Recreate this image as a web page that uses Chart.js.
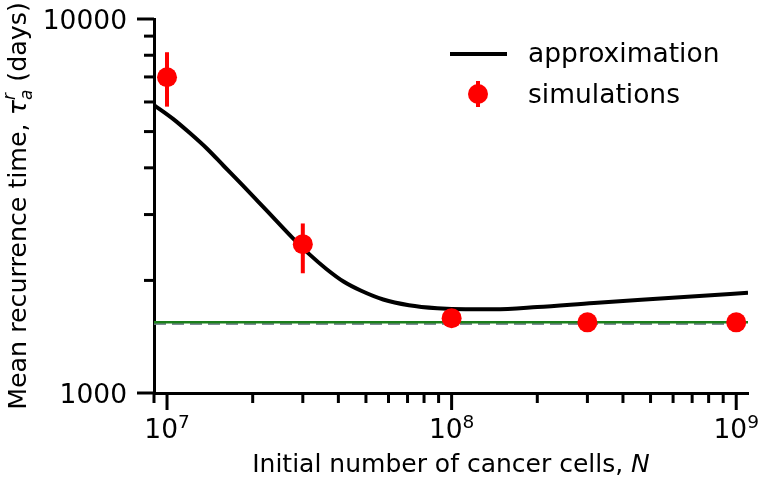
<!DOCTYPE html>
<html>
<head>
<meta charset="utf-8">
<script src="https://cdn.jsdelivr.net/npm/chart.js@4.4.1/dist/chart.umd.min.js"></script>
<style>
  html, body { margin: 0; padding: 0; background: #fff; }
  #wrap { width: 760px; height: 482px; }
</style>
</head>
<body>
<div id="wrap"><canvas id="myChart" width="760" height="482"></canvas></div>
<script>
// approximation curve
const curveN = [9.0e6, 1.05e7, 1.2e7, 1.38e7, 1.58e7, 1.82e7, 2.09e7, 2.4e7, 2.75e7, 3.16e7, 3.63e7, 4.17e7, 4.79e7, 5.75e7, 7.08e7, 8.9e7, 1.12e8, 1.41e8, 2.0e8, 3.16e8, 5.6e8, 1.1e9];
const curveTau = [5888, 5408, 4963, 4506, 4052, 3628, 3249, 2908, 2608, 2351, 2146, 1986, 1879, 1778, 1717, 1685, 1674, 1674, 1697, 1741, 1792, 1854];

// simulations with error bars
const simN = [1e7, 3e7, 1e8, 3e8, 1e9];
const simTau = [6985, 2500, 1585, 1545, 1545];
const simLow = [5830, 2090, 1560, 1525, 1525];
const simHigh = [8150, 2840, 1610, 1565, 1565];

// horizontal reference levels
const greenLevel = [1545, 1545];
const dashedLevel = [1535, 1535];

const xRange = [9.0e6, 1.1e9];
const yRange = [1000, 10000];
const yTickLabels = [1000, 10000];

const FONT = "'DejaVu Sans', sans-serif";
const RED = '#ff0000';

function logTicks(min, max) {
  const out = [];
  for (let e = Math.floor(Math.log10(min)); e <= Math.ceil(Math.log10(max)); e++) {
    for (let k = 1; k <= 9; k++) {
      const v = k * Math.pow(10, e);
      if (v >= min * 0.999 && v <= max * 1.001) out.push({ v, major: k === 1, e });
    }
  }
  return out;
}

// draw text pieces in a row: [text, font, yShift, noAdvance]
function drawPieces(ctx, pieces, x, y) {
  let cx = x;
  pieces.forEach((p) => {
    ctx.font = p[1];
    ctx.fillText(p[0], cx, y + (p[2] || 0));
    if (!p[3]) cx += ctx.measureText(p[0]).width;
  });
}
function piecesWidth(ctx, pieces) {
  let w = 0;
  pieces.forEach((p) => {
    ctx.font = p[1];
    if (!p[3]) w += ctx.measureText(p[0]).width;
  });
  return w;
}

const decorPlugin = {
  id: 'decor',
  beforeDatasetsDraw(chart) {
    const { ctx, scales: { x, y } } = chart;
    ctx.save();
    ctx.strokeStyle = RED;
    ctx.lineWidth = 4;
    simN.forEach((n, i) => {
      const px = x.getPixelForValue(n);
      ctx.beginPath();
      ctx.moveTo(px, y.getPixelForValue(simLow[i]));
      ctx.lineTo(px, y.getPixelForValue(simHigh[i]));
      ctx.stroke();
    });
    ctx.restore();
  },
  afterDraw(chart) {
    const { ctx, chartArea, scales: { x, y } } = chart;
    ctx.save();
    ctx.strokeStyle = '#000';
    ctx.fillStyle = '#000';
    ctx.lineWidth = 3;
    ctx.textAlign = 'left';
    ctx.textBaseline = 'alphabetic';

    // x ticks + labels
    logTicks(xRange[0], xRange[1]).forEach((t) => {
      const px = x.getPixelForValue(t.v);
      ctx.beginPath();
      ctx.moveTo(px, chartArea.bottom);
      ctx.lineTo(px, chartArea.bottom + (t.major ? 17 : 10));
      ctx.stroke();
      if (t.major) {
        const pieces = [['10', '26.5px ' + FONT, 0], [String(t.e), '18.5px ' + FONT, -10]];
        const w = piecesWidth(ctx, pieces);
        drawPieces(ctx, pieces, px - w / 2, 438);
      }
    });

    // y ticks + labels
    logTicks(yRange[0], yRange[1]).forEach((t) => {
      const py = y.getPixelForValue(t.v);
      ctx.beginPath();
      ctx.moveTo(chartArea.left - (t.major ? 17 : 10), py);
      ctx.lineTo(chartArea.left, py);
      ctx.stroke();
    });
    ctx.textAlign = 'right';
    ctx.font = '26.5px ' + FONT;
    yTickLabels.forEach((v) => {
      ctx.fillText(String(v), 127, y.getPixelForValue(v) + 9.5);
    });
    ctx.textAlign = 'left';

    // x title
    const xt = [['Initial number of cancer cells, ', '25px ' + FONT, 0], ['N', 'italic 25px ' + FONT, 0]];
    const cx = (chartArea.left + chartArea.right) / 2;
    drawPieces(ctx, xt, cx - piecesWidth(ctx, xt) / 2, 472);

    // y title
    const yt = [
      ['Mean recurrence time, ', '25.3px ' + FONT, 0],
      ['τ', 'italic 25.3px ' + FONT, 0],
      ['r', 'italic 17px ' + FONT, -11, true],
      ['a', 'italic 17px ' + FONT, 6],
      [' (days)', '25.3px ' + FONT, 0]
    ];
    ctx.save();
    ctx.translate(26, (chartArea.top + chartArea.bottom) / 2);
    ctx.rotate(-Math.PI / 2);
    drawPieces(ctx, yt, -piecesWidth(ctx, yt) / 2, 0);
    ctx.restore();

    // legend
    const ds = chart.data.datasets;
    ctx.beginPath();
    ctx.lineWidth = 4;
    ctx.moveTo(450, 54);
    ctx.lineTo(507, 54);
    ctx.stroke();
    ctx.strokeStyle = RED;
    ctx.fillStyle = RED;
    ctx.beginPath();
    ctx.moveTo(478, 81);
    ctx.lineTo(478, 107);
    ctx.stroke();
    ctx.beginPath();
    ctx.arc(478, 94, 10, 0, Math.PI * 2);
    ctx.fill();
    ctx.fillStyle = '#000';
    ctx.font = '26.5px ' + FONT;
    ctx.fillText(ds[0].label, 528, 62);
    ctx.fillText(ds[1].label, 528, 103);
    ctx.restore();
  }
};

const ctx = document.getElementById('myChart').getContext('2d');
const myChart = new Chart(ctx, {
  type: 'scatter',
  data: {
    datasets: [
      {
        label: 'approximation',
        type: 'line',
        data: curveN.map((n, i) => ({ x: n, y: curveTau[i] })),
        borderColor: '#000',
        borderWidth: 4,
        pointRadius: 0,
        cubicInterpolationMode: 'monotone',
        order: 2
      },
      {
        label: 'simulations',
        data: simN.map((n, i) => ({ x: n, y: simTau[i] })),
        backgroundColor: RED,
        borderWidth: 0,
        pointRadius: 10,
        order: 0
      },
      {
        label: 'green',
        type: 'line',
        data: xRange.map((n, i) => ({ x: n, y: greenLevel[i] })),
        borderColor: '#1a7f1a',
        borderWidth: 2.5,
        pointRadius: 0,
        order: 3
      },
      {
        label: 'dashed',
        type: 'line',
        data: xRange.map((n, i) => ({ x: n, y: dashedLevel[i] })),
        borderColor: 'rgba(110,128,135,0.9)',
        borderWidth: 3,
        borderDash: [12, 6],
        pointRadius: 0,
        order: 4
      }
    ]
  },
  options: {
    responsive: false,
    animation: false,
    devicePixelRatio: 1,
    layout: { padding: { top: 19, right: 12, left: 0, bottom: 0 } },
    plugins: { legend: { display: false }, tooltip: { enabled: false } },
    scales: {
      x: {
        type: 'logarithmic',
        min: xRange[0],
        max: xRange[1],
        grid: { display: false, drawTicks: false },
        border: { display: true, color: '#000', width: 3 },
        ticks: { display: false },
        afterFit: (scale) => { scale.height = 89; }
      },
      y: {
        type: 'logarithmic',
        min: yRange[0],
        max: yRange[1],
        grid: { display: false, drawTicks: false },
        border: { display: true, color: '#000', width: 3 },
        ticks: { display: false },
        afterFit: (scale) => { scale.width = 154; }
      }
    }
  },
  plugins: [decorPlugin]
});
</script>
</body>
</html>
